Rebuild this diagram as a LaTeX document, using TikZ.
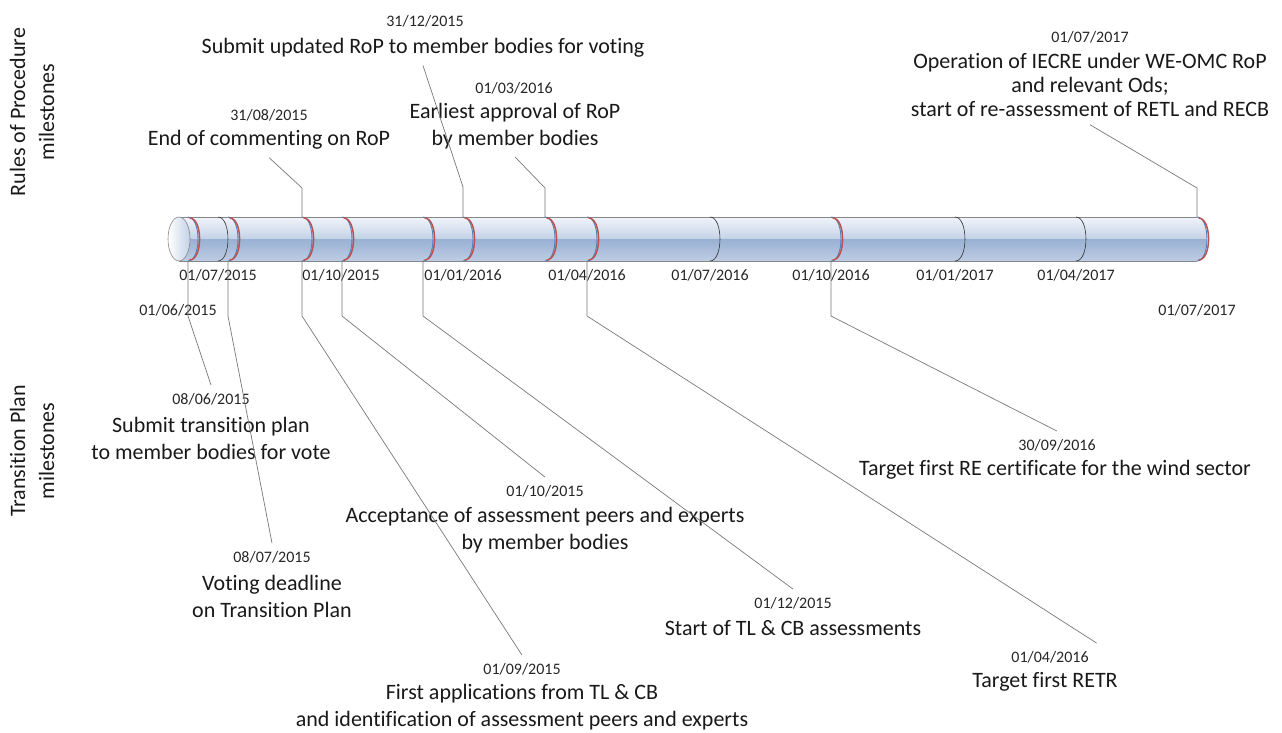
\documentclass[tikz,border=0pt]{standalone}
\usepackage{fontspec}
\setmainfont{Carlito}[Ligatures=NoCommon]

\newcommand\evtfont{\fontsize{22}{27}\selectfont}
\newcommand\datefont{\fontsize{16}{19}\selectfont}

\tikzset{
    evtlabel/.style={font=\evtfont, align=center, text=black!90, inner sep=1pt, outer sep=7pt},
    datelabel/.style={font=\datefont, text=black!85, inner sep=1pt, outer sep=7pt},
    ticklabel/.style={font=\datefont, text=black!85, inner sep=1pt},
    sidelabel/.style={font=\fontsize{22}{29}\selectfont, align=center, text=black!90, rotate=90},
    callout/.style={draw=linecol, line width=0.7pt},
}

\begin{document}
\begin{tikzpicture}[x=1pt, y=-1pt]
\useasboundingbox (0,0) rectangle (1282,733);

% --- parameters ---
\def\ytop{217}    % upper edge of the tube
\def\ymid{239}    % axis of the tube
\def\ybot{261}    % lower edge of the tube
\def\ctl{13.3}    % control offset of the joint arcs (bulge 10)

% --- colors ---
\definecolor{tubetop}{RGB}{240,244,250}
\definecolor{tubemid}{RGB}{196,210,231}
\definecolor{tubelow}{RGB}{152,176,210}
\definecolor{tubebot}{RGB}{190,205,228}
\definecolor{rimcol}{RGB}{135,135,135}
\definecolor{jointblue}{RGB}{79,129,189}
\definecolor{jointred}{RGB}{192,80,77}
\definecolor{linecol}{RGB}{120,120,120}

% --- tube body ---
\begin{scope}
    \clip (179,\ytop) -- (1197,\ytop)
        .. controls (1197+\ctl,\ytop) and (1197+\ctl,\ybot) .. (1197,\ybot)
        -- (179,\ybot) -- cycle;
    \shade[top color=tubetop, bottom color=tubemid] (170,\ytop) rectangle (1215,\ymid);
    \shade[top color=tubelow, bottom color=tubebot] (170,\ymid) rectangle (1215,\ybot);
\end{scope}
\draw[rimcol, line width=0.6pt] (179,\ytop) -- (1197,\ytop);
\draw[rimcol, line width=0.6pt] (179,\ybot) -- (1197,\ybot);

% --- left cap ---
\shadedraw[left color=white, right color=tubemid, draw=rimcol, line width=0.6pt]
    (179,\ymid) ellipse[x radius=11, y radius=22];

% --- quarter joints (plain) ---
\foreach \x in {218,710,955,1076} {
    \draw[black!80, line width=0.6pt]
        (\x,\ytop) .. controls (\x+\ctl,\ytop) and (\x+\ctl,\ybot) .. (\x,\ybot);
}

% --- milestone joints (red) ---
\foreach \x in {188,228,302,342,423,463,545,587,831,1197} {
    \draw[jointblue, line width=0.9pt]
        (\x,\ytop) .. controls (\x+\ctl,\ytop) and (\x+\ctl,\ybot) .. (\x,\ybot);
    \draw[jointred, line width=1.5pt]
        (\x+1.6,\ytop+1) .. controls (\x+1.6+\ctl,\ytop+1) and (\x+1.6+\ctl,\ybot-1) .. (\x+1.6,\ybot-1);
}

% --- tick dates under the tube ---
\foreach \x/\d [count=\i] in {218/{01/07/2015}, 341/{01/10/2015}, 463/{01/01/2016},
        587/{01/04/2016}, 710/{01/07/2016}, 831/{01/10/2016}, 955/{01/01/2017},
        1076/{01/04/2017}} {
    \node[ticklabel] (tick\i) at (\x,275) {\d};
}
\node[ticklabel] (tstart) at (178,310) {01/06/2015};
\node[ticklabel] (tend)   at (1197,310) {01/07/2017};

% --- side titles ---
\node[sidelabel] (rop) at (32,112) {Rules of Procedure\\milestones};
\node[sidelabel] (tp)  at (32,451) {Transition Plan\\milestones};

% --- Rules of Procedure milestones (above) ---
\node[datelabel] (d3108) at (269,115) {31/08/2015};
\node[evtlabel]  (t3108) at (269,140) {End of commenting on RoP};

\node[datelabel] (d3112) at (425,21) {31/12/2015};
\node[evtlabel]  (t3112) at (423,48) {Submit updated RoP to member bodies for voting};

\node[datelabel] (d0103) at (514,88) {01/03/2016};
\node[evtlabel]  (t0103) at (515,126) {Earliest approval of RoP\\by member bodies};

\node[datelabel] (d0107) at (1090,37) {01/07/2017};
\node[evtlabel, font=\fontsize{22}{24}\selectfont]
                 (t0107) at (1090,85) {Operation of IECRE under WE-OMC RoP\\and relevant Ods;\\start of re-assessment of RETL and RECB};

\coordinate (a3108) at (302,\ytop);
\coordinate (a3112) at (463,\ytop);
\coordinate (a0103) at (545,\ytop);
\coordinate (a0107) at (1197,\ytop);

\draw[callout] (a3108) -- ++(0,-29) -- (t3108.south);
\draw[callout] (a3112) -- ++(0,-30) -- (t3112.south);
\draw[callout] (a0103) -- ++(0,-29) -- (t0103.south);
\draw[callout] (a0107) -- ++(0,-29) -- (t0107.south);

% --- Transition Plan milestones (below) ---
\node[datelabel] (d0806) at (211,399) {08/06/2015};
\node[evtlabel]  (t0806) at (211,438) {Submit transition plan\\to member bodies for vote};

\node[datelabel] (d0807) at (272,557) {08/07/2015};
\node[evtlabel]  (t0807) at (272,596) {Voting deadline\\on Transition Plan};

\node[datelabel] (d0109) at (522,669) {01/09/2015};
\node[evtlabel]  (t0109) at (522,707) {First applications from TL \& CB\\and identification of assessment peers and experts};

\node[datelabel] (d0110) at (545,491) {01/10/2015};
\node[evtlabel]  (t0110) at (545,530) {Acceptance of assessment peers and experts\\by member bodies};

\node[datelabel] (d0112) at (793,603) {01/12/2015};
\node[evtlabel]  (t0112) at (793,628) {Start of TL \& CB assessments};

\node[datelabel] (d0104) at (1050,657) {01/04/2016};
\node[evtlabel]  (t0104) at (1045,682) {Target first RETR};

\node[datelabel] (d3009) at (1057,445) {30/09/2016};
\node[evtlabel]  (t3009) at (1055,470) {Target first RE certificate for the wind sector};

\coordinate (a0806) at (188,\ybot);
\coordinate (a0807) at (228,\ybot);
\coordinate (a0109) at (302,\ybot);
\coordinate (a0110) at (342,\ybot);
\coordinate (a0112) at (423,\ybot);
\coordinate (a0104) at (587,\ybot);
\coordinate (a3009) at (831,\ybot);

\draw[callout] (a0806) -- ++(0,55) -- (d0806.north);
\draw[callout] (a0807) -- ++(0,55) -- (d0807.north);
\draw[callout] (a0109) -- ++(0,55) -- (d0109.north);
\draw[callout] (a0110) -- ++(0,55) -- (d0110.north);
\draw[callout] (a0112) -- ++(0,55) -- (d0112.north);
\draw[callout] (a0104) -- ++(0,55) -- (d0104.north east);
\draw[callout] (a3009) -- ++(0,55) -- (d3009.north);

\end{tikzpicture}
\end{document}
